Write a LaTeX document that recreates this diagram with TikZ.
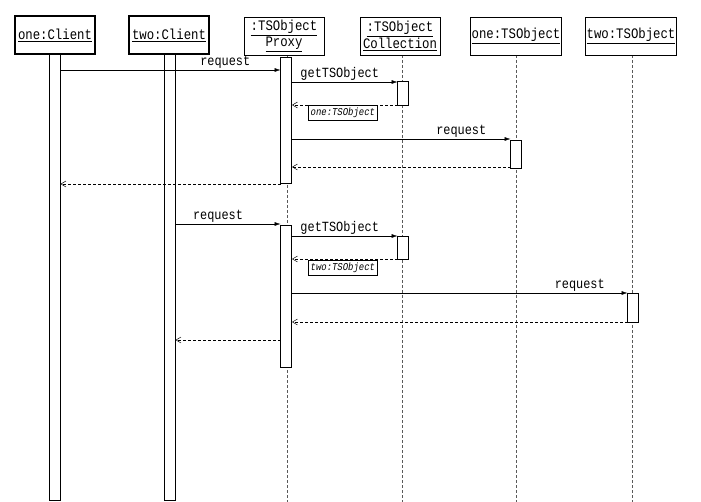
\documentclass[tikz,border=0pt]{standalone}
\usepackage{fontspec}
\setmainfont{Liberation Mono}[FakeStretch=0.85]
\usetikzlibrary{arrows.meta}
\begin{document}
\begin{tikzpicture}[x=1pt,y=-1pt,
 hdr/.style={draw,fill=white,minimum width=80pt,minimum height=38pt,align=center,inner sep=1pt,font=\fontsize{14.5}{14}\selectfont},
 act/.style={draw,fill=white,minimum width=11pt,inner sep=0pt},
 life/.style={densely dashed,gray!70!black,line width=0.5pt},
 call/.style={-{Latex[length=6pt,width=4pt]},line width=0.5pt},
 ret/.style={densely dashed,-{Straight Barb[length=5pt,width=6pt]},line width=0.5pt},
 lbl/.style={font=\fontsize{14}{14}\selectfont,inner sep=1pt},
 note/.style={draw,font=\fontsize{10.5}{10.5}\selectfont\itshape,inner sep=2.5pt}]
\useasboundingbox (0,0) rectangle (701,502);
% lifelines
\foreach \x in {287,402,516,632} \draw[life] (\x,55) -- (\x,502);
% client bars
\node[act,line width=0.6pt,anchor=north,minimum height=446pt] (ca) at (55,54) {};
\node[act,line width=0.6pt,anchor=north,minimum height=446pt] (cb) at (170,54) {};
% headers
\node[hdr,line width=1.4pt] (h1) at (55,35) {\underline{one:Client}};
\node[hdr,line width=1.4pt] (h2) at (169,35) {\underline{two:Client}};
\node[hdr] (h3) at (284,36) {\underline{:TSObject}\\\underline{Proxy}};
\node[hdr] (h4) at (400,36) {\underline{:TSObject}\\\underline{Collection}};
\node[hdr] (h5) at (516,36) {\underline{one:TSObject}};
\node[hdr] (h6) at (631,36) {\underline{two:TSObject}};
% activations
\node[act,anchor=north,minimum height=126pt] (p1) at (286,57) {};
\node[act,anchor=north,minimum height=24pt] (c1) at (403,81) {};
\node[act,anchor=north,minimum height=28pt] (o1) at (516,140) {};
\node[act,anchor=north,minimum height=142pt] (p2) at (286,225) {};
\node[act,anchor=north,minimum height=23pt] (c2) at (403,236) {};
\node[act,anchor=north,minimum height=29pt] (o2) at (633,293) {};
% first sequence
\coordinate (a1) at (60,70); \coordinate (a2) at (280.5,70);
\draw[call] (a1) -- node[lbl,above,xshift=55pt]{request} (a2);
\coordinate (b1) at (292,82); \coordinate (b2) at (397.5,82);
\draw[call] (b1) -- node[lbl,above,xshift=-5pt]{getTSObject} (b2);
\coordinate (r1) at (397.5,105); \coordinate (r2) at (292,105);
\draw[ret] (r1) -- (r2);
\node[note,anchor=north west] (n1) at (308,105) {one:TSObject};
\coordinate (d1) at (292,139); \coordinate (d2) at (510.5,139);
\draw[call] (d1) -- node[lbl,above,xshift=60pt]{request} (d2);
\coordinate (e1) at (510.5,167); \coordinate (e2) at (292,167);
\draw[ret] (e1) -- (e2);
\coordinate (f1) at (280.5,184); \coordinate (f2) at (60.5,184);
\draw[ret] (f1) -- (f2);
% second sequence
\coordinate (g1) at (175.5,224); \coordinate (g2) at (280.5,224);
\draw[call] (g1) -- node[lbl,above,xshift=-10pt]{request} (g2);
\coordinate (i1) at (292,236); \coordinate (i2) at (397.5,236);
\draw[call] (i1) -- node[lbl,above,xshift=-5pt]{getTSObject} (i2);
\coordinate (j1) at (397.5,259); \coordinate (j2) at (292,259);
\draw[ret] (j1) -- (j2);
\node[note,anchor=north west] (n2) at (308,260) {two:TSObject};
\coordinate (k1) at (292,293); \coordinate (k2) at (627.5,293);
\draw[call] (k1) -- node[lbl,above,xshift=120pt]{request} (k2);
\coordinate (l1) at (627.5,322); \coordinate (l2) at (292,322);
\draw[ret] (l1) -- (l2);
\coordinate (m1) at (280.5,340); \coordinate (m2) at (175.5,340);
\draw[ret] (m1) -- (m2);
\end{tikzpicture}
\end{document}
